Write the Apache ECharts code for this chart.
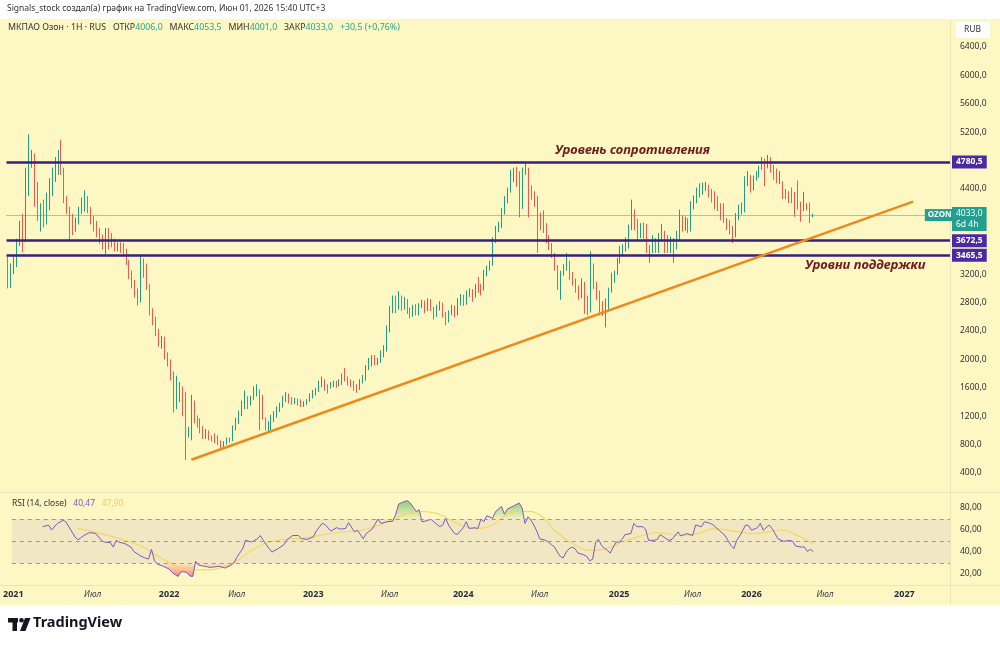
<!DOCTYPE html>
<html>
<head>
<meta charset="utf-8">
<script src="https://cdn.jsdelivr.net/npm/echarts@6/dist/echarts.min.js"></script>
<style>
  html, body { margin: 0; padding: 0; background: #fff; }
  #chart { width: 1000px; height: 645px; }
</style>
</head>
<body>
<div id="chart"></div>
<script>
// weekly candles [open, close, low, high], first one is week 1 of 2021
const candles = [
  [3350,3150,3000,3450],[3120,3300,3005,3350],[3250,3400,3200,3450],[3380,3560,3300,3700],[3650,3880,3600,3950],
  [3980,3620,3510,4050],[3680,4660,3650,4700],[4520,4790,4300,5170],[4800,4900,4700,4950],[4850,4400,4150,4900],
  [4400,4000,3950,4500],[3860,4130,3800,4200],[4050,3980,3860,4250],[3960,4280,3900,4350],[4150,4490,4100,4550],
  [4340,4620,4300,4700],[4570,4760,4500,4850],[4680,4850,4600,4950],[4850,4650,4600,5090],[4650,4250,4200,4700],
  [4280,4100,4050,4300],[4100,3900,3680,4150],[4000,3850,3750,4050],[3880,3950,3800,4000],[3950,4100,3900,4150],
  [4080,4230,4050,4280],[4150,4280,4080,4380],[4260,4120,4060,4300],[4120,3960,3900,4150],[3990,3880,3800,4020],
  [3900,3780,3720,3950],[3800,3700,3630,3850],[3730,3620,3550,3760],[3580,3800,3480,3850],[3800,3600,3550,3850],
  [3720,3620,3580,3780],[3680,3560,3520,3700],[3560,3620,3520,3650],[3620,3560,3500,3650],[3600,3520,3450,3640],
  [3520,3370,3330,3560],[3380,3180,3130,3400],[3220,3060,3000,3250],[3100,2920,2870,3120],[2980,2800,2760,3000],
  [2850,3370,2800,3480],[3360,3250,3150,3420],[3300,3020,2980,3350],[3040,2670,2620,3060],[2690,2530,2480,2720],
  [2570,2380,2330,2600],[2400,2230,2180,2430],[2230,2300,2150,2330],[2290,2060,2000,2320],[2080,1950,1900,2100],
  [1980,1740,1700,2000],[1800,1390,1250,1830],[1390,1470,1300,1770],[1470,1520,1400,1680],[1560,1300,1200,1620],
  [1500,980,583,1540],[980,1010,900,1050],[1010,1400,860,1500],[1400,1146,1100,1420],[1190,1080,1040,1210],
  [1150,1005,960,1170],[1030,910,880,1060],[920,1000,880,1020],[980,900,860,1000],[910,870,840,930],
  [930,860,820,960],[900,820,790,930],[840,760,735,860],[770,830,750,850],[820,880,800,900],
  [870,860,830,900],[870,1050,850,1070],[1030,1160,1000,1180],[1120,1250,1090,1280],[1240,1390,1200,1420],
  [1340,1470,1300,1560],[1440,1340,1300,1480],[1390,1460,1350,1490],[1470,1580,1430,1620],[1510,1570,1480,1650],
  [1540,1430,1000,1580],[1470,1200,1150,1500],[1150,1040,1000,1180],[1020,1100,970,1130],[1050,1190,1000,1220],
  [1160,1240,1120,1270],[1220,1310,1180,1340],[1290,1360,1260,1390],[1350,1470,1320,1490],[1440,1500,1400,1540],
  [1500,1420,1380,1520],[1440,1400,1360,1470],[1410,1440,1370,1460],[1430,1390,1350,1450],[1420,1360,1330,1440],
  [1360,1390,1330,1410],[1390,1420,1360,1440],[1420,1500,1400,1520],[1480,1540,1450,1570],[1520,1580,1490,1600],
  [1570,1670,1540,1700],[1640,1720,1610,1760],[1700,1590,1560,1720],[1620,1560,1520,1650],[1620,1650,1590,1680],
  [1650,1680,1610,1700],[1670,1630,1600,1700],[1650,1700,1620,1720],[1660,1780,1640,1800],[1800,1720,1690,1880],
  [1730,1660,1630,1760],[1690,1650,1610,1720],[1670,1590,1560,1700],[1600,1580,1530,1650],[1600,1700,1570,1720],
  [1690,1760,1660,1780],[1720,1900,1700,1920],[1880,1990,1850,2020],[1940,2040,1900,2060],[2030,1950,1920,2060],
  [1960,1990,1920,2020],[1970,2100,1950,2130],[2060,2170,2030,2200],[2140,2450,2110,2480],[2400,2700,2380,2750],
  [2680,2840,2650,2900],[2850,2700,2650,2900],[2720,2900,2700,2960],[2860,2720,2680,2900],[2740,2830,2700,2880],
  [2820,2680,2640,2850],[2700,2620,2580,2730],[2640,2740,2600,2770],[2750,2650,2620,2780],[2660,2760,2620,2790],
  [2760,2800,2720,2840],[2800,2690,2650,2830],[2700,2830,2680,2860],[2820,2720,2680,2850],[2700,2600,2560,2740],
  [2620,2740,2600,2770],[2730,2780,2690,2820],[2770,2630,2590,2800],[2640,2530,2480,2670],[2550,2660,2520,2690],
  [2660,2740,2620,2770],[2740,2630,2590,2760],[2650,2820,2620,2860],[2800,2880,2760,2920],[2880,2790,2750,2910],
  [2800,2930,2770,2970],[2930,2960,2880,3000],[2960,2850,2810,2990],[2910,3020,2870,3060],[3100,2980,2940,3160],
  [3020,2960,2900,3060],[3000,3230,2970,3260],[3210,3290,3170,3320],[3290,3360,3250,3390],[3350,3680,3320,3720],
  [3670,3850,3640,3880],[3830,3900,3790,3940],[3880,4100,3850,4130],[4080,4270,4040,4300],[4240,4380,4200,4420],
  [4380,4640,4350,4670],[4540,4660,4500,4700],[4620,4480,4430,4710],[4620,4100,4000,4650],[4150,4660,4120,4700],
  [4640,4720,4600,4760],[4650,4400,4000,4700],[4420,4290,4250,4450],[4340,4200,4150,4370],[4270,3930,3500,4300],
  [4030,3860,3820,4070],[3970,3820,3780,4100],[3890,3680,3640,3920],[3720,3580,3540,3750],[3610,3470,3430,3640],
  [3470,3290,3250,3500],[3300,3020,2980,3330],[3020,3220,2840,3250],[3220,3300,3180,3340],[3290,3360,3250,3500],
  [3360,3160,3120,3390],[3200,3080,3040,3230],[3110,2980,2940,3140],[3010,2880,2840,3040],[2900,3110,2860,3140],
  [3060,2740,2640,3090],[2880,2660,2620,2900],[2700,3470,2660,3520],[3310,3030,2990,3350],[3060,2880,2840,3090],
  [2940,2700,2620,2970],[2790,2650,2610,2820],[2650,2830,2450,2860],[2720,2980,2690,3010],[2970,3190,2940,3220],
  [3120,3220,3080,3250],[3220,3400,3190,3430],[3380,3570,3350,3600],[3510,3590,3470,3620],[3560,3690,3520,3720],
  [3590,3870,3560,3900],[3850,4100,3820,4250],[4080,3860,3820,4110],[3950,3720,3680,3980],[3750,3880,3710,3920],
  [3900,3740,3700,3930],[3880,3540,3500,3910],[3580,3470,3360,3610],[3540,3720,3500,3750],[3680,3540,3500,3710],
  [3540,3750,3500,3780],[3700,3880,3660,3910],[3780,3540,3500,3810],[3720,3540,3500,3750],[3540,3700,3500,3730],
  [3680,3470,3360,3710],[3580,3780,3550,3810],[3690,4050,3660,4110],[4000,3850,3800,4030],[3850,3980,3810,4010],
  [3960,3820,3780,3990],[3830,4200,3800,4230],[4150,4280,4110,4310],[4230,4390,4200,4420],[4310,4450,4280,4480],
  [4350,4460,4320,4490],[4400,4480,4370,4500],[4430,4310,4280,4460],[4370,4250,4210,4400],[4340,4150,4110,4370],
  [4270,4130,4090,4300],[4170,4000,3960,4200],[4100,3960,3920,4200],[3960,3860,3820,3990],[3930,3800,3760,3960],
  [3850,3680,3640,3880],[3760,4030,3720,4060],[4000,4150,3960,4180],[4080,4170,4040,4210],[4100,4550,4070,4580],
  [4480,4600,4440,4650],[4560,4390,4350,4600],[4420,4560,4380,4590],[4550,4600,4520,4650],[4600,4700,4560,4730],
  [4700,4810,4670,4850],[4740,4480,4440,4830],[4720,4810,4690,4880],[4770,4670,4630,4850],[4710,4570,4530,4740],
  [4660,4520,4480,4690],[4500,4620,4470,4650],[4480,4300,4260,4510],[4370,4300,4260,4400],[4340,4230,4200,4370],
  [4330,4240,4200,4420],[4330,4050,4010,4360],[4260,4150,4110,4520],[4190,4000,3940,4220],[4130,4190,4090,4360],
  [4170,4140,4100,4200],[4180,4000,3920,4210],[4006,4033,4001,4053.5]
];

// RSI(14) and its moving average as [bar index, value]
const rsiPts = [
  [10,63],[12,64.5],[13,60],[15,66],[17,68.8],[18,67],[20,58],[21,53.7],[22,51],[24,55],[26,57.7],[28,56.8],
  [30,50.6],[31,49],[33,48.5],[34,44.5],[35,50.6],[36,49],[38,47.5],[40,44.5],[41,40.5],[43,36.8],[45,34.3],
  [46,33.7],[47,42.3],[48,32],[49,29],[51,27],[53,24.5],[54,21.4],[56,17.7],[57,22],[58,22],[59,21.4],[60,18.3],
  [61,17.7],[62,31.5],[63,28],[65,27],[67,26],[70,27],[72,25.4],[74,28],[75,30],[76,35.2],[78,43],[79,50.6],
  [81,49],[83,52],[84,55],[85,50.6],[87,43],[88,40],[90,43],[92,46.6],[93,51],[95,55],[97,55],[98,52],[100,51.5],
  [102,53.7],[103,59],[105,66],[106,65],[108,59],[110,62.2],[111,60.8],[113,61.4],[114,66.6],[116,58.3],
  [117,59.8],[119,52],[120,56.8],[122,60.8],[124,70],[125,66],[127,67.5],[129,68],[130,73.7],[131,83.5],
  [133,86],[134,86.6],[135,84.5],[137,76.8],[138,78.3],[139,67.5],[140,68],[142,69.7],[143,67.5],[145,63],
  [146,64.5],[147,70.6],[148,64.5],[150,56.8],[151,56],[153,62],[154,67.5],[155,61.4],[157,62],[158,61.4],
  [159,70],[160,67.5],[161,73],[163,70.6],[164,76.8],[166,81.4],[167,74.3],[168,79],[170,81.7],[172,84.5],
  [173,80],[174,66],[175,72],[176,69],[177,64.5],[178,59],[179,52],[181,50.6],[182,49],[183,46.6],[184,44.5],
  [185,40],[186,36],[187,34.6],[188,40],[189,43],[190,44.5],[191,43],[192,39],[194,37.4],[195,36],[196,32],
  [197,33.5],[198,49],[199,51.5],[200,46],[201,43.5],[202,41.4],[203,39],[204,44.5],[205,49],[206,49],
  [207,51.5],[208,55.8],[210,56.8],[211,66],[212,63],[214,63],[215,60.8],[216,50.6],[218,50.6],[219,51.5],
  [220,55.8],[222,52],[223,50.6],[224,51.5],[226,58.3],[227,54.6],[229,56.8],[231,55],[232,64.5],[234,63],
  [235,67.5],[237,66],[238,64.5],[240,59.8],[242,55],[243,50.6],[244,46],[245,43],[246,50.6],[247,54.6],
  [249,64.5],[250,64],[251,59.8],[253,62],[254,66],[255,59.8],[257,64.5],[258,61.4],[259,56.8],[260,52],
  [262,49.7],[264,50.6],[265,49.7],[266,45.4],[268,44.5],[269,44.5],[270,40.5],[271,42.3],[272,40.47]
];
const rsiMaPts = [
  [22,61.4],[31,55.8],[43,46],[52,32],[61,23.8],[65,23.8],[71,26],[76,32],[83,44.5],[90,50.6],[99,52.8],
  [110,57.7],[121,61.4],[133,73.7],[139,76.8],[144,75],[151,66],[157,61.4],[163,64.5],[166,70.6],[171,76.8],
  [174,77],[179,73.7],[184,60],[190,48],[197,41.4],[202,43.5],[208,50],[214,55],[219,57.7],[227,55],[233,57],
  [238,61],[245,59],[251,56.8],[257,58.5],[261,60],[267,54.6],[271,49],[272,47.9]
];

const tickIdx = [0, 27, 53, 76, 102, 128, 153, 179, 206, 231, 251, 276, 303];
const tickText = ['2021','Июл','2022','Июл','2023','Июл','2024','Июл','2025','Июл','2026','Июл','2027'];

const levels = [4780.5, 3672.5, 3465.5];
const trendLine = [[62, 587], [306, 4222]];
const slotCount = 319;
const hiddenPriceLabels = [0, 3600, 4000, 4800, 6800];

const cats = Array.from({ length: slotCount }, (_, i) => String(i));
const last = candles[candles.length - 1];

const FONT = '"Noto Sans", "DejaVu Sans", sans-serif';
const UP = '#1e9e88', DOWN = '#ee5a52';
const fmt1 = v => v.toFixed(1).replace('.', ',');
const fmt2 = v => v.toFixed(2).replace('.', ',');

const chart = echarts.init(document.getElementById('chart'), null, { renderer: 'canvas' });

chart.setOption({
  animation: false,
  backgroundColor: '#fdf7c4',
  textStyle: { fontFamily: FONT },
  grid: [
    { left: 6.5, right: 50, top: 18.6, height: 482.8 },
    { left: 6.5, right: 50, top: 486, height: 110 }
  ],
  xAxis: [
    {
      type: 'category', gridIndex: 0, data: cats,
      axisLine: { show: false }, axisTick: { show: false }, axisLabel: { show: false }, splitLine: { show: false }
    },
    {
      type: 'category', gridIndex: 1, data: cats, offset: -9,
      axisLine: { show: false }, axisTick: { show: false }, splitLine: { show: false },
      axisLabel: {
        margin: 3,
        alignMinLabel: 'center',
        interval: (i) => tickIdx.indexOf(i) >= 0,
        formatter: (v, i) => {
          const t = tickText[tickIdx.indexOf(Number(v))];
          return t === 'Июл' ? '{m|' + t + '}' : '{y|' + t + '}';
        },
        rich: {
          y: { fontSize: 9, fontWeight: 'bold', color: '#2a2e39', fontFamily: FONT },
          m: { fontSize: 8.5, fontStyle: 'italic', color: '#3a3e49', fontFamily: FONT }
        }
      }
    }
  ],
  yAxis: [
    {
      type: 'value', gridIndex: 0, position: 'right', min: 0, max: 6800, interval: 400,
      axisLine: { show: false }, axisTick: { show: false }, splitLine: { show: false },
      axisLabel: {
        margin: 10, fontSize: 8.5, color: '#333',
        formatter: v => hiddenPriceLabels.indexOf(v) >= 0 ? '' : fmt1(v)
      }
    },
    {
      type: 'value', gridIndex: 1, position: 'right', min: 0, max: 100, interval: 20,
      axisLine: { show: false }, axisTick: { show: false }, splitLine: { show: false },
      axisLabel: {
        margin: 10, fontSize: 8.5, color: '#333',
        formatter: v => (v === 0 || v === 100) ? '' : fmt2(v)
      }
    }
  ],
  series: [
    {
      type: 'candlestick', xAxisIndex: 0, yAxisIndex: 0,
      data: candles,
      barWidth: 1.2,
      itemStyle: { color: UP, color0: DOWN, borderColor: UP, borderColor0: DOWN, borderWidth: 1 },
      markLine: {
        silent: true, symbol: 'none',
        data: [
          ...levels.map(v => ({
            yAxis: v,
            lineStyle: { color: '#35217e', width: 2.5, type: 'solid' },
            label: {
              show: true, position: 'end', distance: 2, formatter: fmt1(v),
              backgroundColor: '#4a2aa3', color: '#fff', fontSize: 8.5, fontWeight: 'bold',
              padding: [2, 4, 2, 4], fontFamily: FONT
            }
          })),
          {
            yAxis: last[1],
            lineStyle: { color: '#26a69a', width: 1, type: 'dotted' },
            label: {
              show: true, position: 'end', distance: 2, formatter: fmt1(last[1]) + '\n6d 4h',
              backgroundColor: '#22a08f', color: '#fff', fontSize: 8.5, lineHeight: 11,
              padding: [1, 4, 1, 4], fontFamily: FONT, offset: [0, 4]
            }
          },
          [
            { coord: [String(trendLine[0][0]), trendLine[0][1]], lineStyle: { color: '#ee8a1c', width: 2.5, type: 'solid' }, label: { show: false } },
            { coord: [String(trendLine[1][0]), trendLine[1][1]] }
          ]
        ]
      },
      markPoint: {
        silent: true,
        data: [{
          coord: ['315', last[1]], symbolSize: 0,
          label: {
            show: true, position: 'inside', formatter: 'OZON',
            backgroundColor: '#22a08f', color: '#fff', fontSize: 8, fontWeight: 'bold',
            padding: [2, 3, 2, 3], fontFamily: FONT
          }
        }]
      }
    },
    {
      name: 'overbought', type: 'line', xAxisIndex: 1, yAxisIndex: 1,
      data: rsiPts.map(p => [p[0], Math.max(p[1], 70)]),
      symbol: 'none', lineStyle: { width: 0 },
      areaStyle: {
        origin: 70,
        color: new echarts.graphic.LinearGradient(0, 0, 0, 1, [
          { offset: 0, color: 'rgba(76,175,80,0.85)' }, { offset: 1, color: 'rgba(76,175,80,0.1)' }
        ])
      }
    },
    {
      name: 'oversold', type: 'line', xAxisIndex: 1, yAxisIndex: 1,
      data: rsiPts.map(p => [p[0], Math.min(p[1], 30)]),
      symbol: 'none', lineStyle: { width: 0 },
      areaStyle: {
        origin: 30,
        color: new echarts.graphic.LinearGradient(0, 1, 0, 0, [
          { offset: 0, color: 'rgba(242,54,69,0.8)' }, { offset: 1, color: 'rgba(242,54,69,0.1)' }
        ])
      }
    },
    {
      name: 'RSI MA', type: 'line', xAxisIndex: 1, yAxisIndex: 1,
      data: rsiMaPts, smooth: 0.5, symbol: 'none',
      lineStyle: { color: '#f3d766', width: 1.2 }
    },
    {
      name: 'RSI', type: 'line', xAxisIndex: 1, yAxisIndex: 1,
      data: rsiPts, symbol: 'none',
      lineStyle: { color: '#7e57c2', width: 1 },
      markArea: {
        silent: true,
        itemStyle: { color: 'rgba(126,87,194,0.09)' },
        data: [[{ yAxis: 30 }, { yAxis: 70 }]]
      },
      markLine: {
        silent: true, symbol: 'none', label: { show: false },
        lineStyle: { color: '#a09a88', type: [4, 4], width: 1 },
        data: [{ yAxis: 70 }, { yAxis: 50 }, { yAxis: 30 }]
      }
    }
  ],
  graphic: [
    { type: 'rect', shape: { x: 0, y: 0, width: 1000, height: 19 }, style: { fill: '#fff' }, silent: true },
    { type: 'rect', shape: { x: 0, y: 605, width: 1000, height: 40 }, style: { fill: '#fff' }, silent: true },
    { type: 'line', shape: { x1: 0, y1: 492.5, x2: 1000, y2: 492.5 }, style: { stroke: '#ebe4b6', lineWidth: 1 }, silent: true },
    { type: 'line', shape: { x1: 0, y1: 585.5, x2: 1000, y2: 585.5 }, style: { stroke: '#ebe4b6', lineWidth: 1 }, silent: true },
    { type: 'line', shape: { x1: 950.5, y1: 19, x2: 950.5, y2: 605 }, style: { stroke: '#ebe4b6', lineWidth: 1 }, silent: true },
    {
      type: 'text', left: 7, top: 4, silent: true,
      style: { text: 'Signals_stock создал(а) график на TradingView.com, Июн 01, 2026 15:40 UTC+3', font: '8.5px ' + FONT, fill: '#333' }
    },
    {
      type: 'text', left: 8, top: 23, silent: true,
      style: {
        text: '{l|МКПАО Озон · 1H · RUS   ОТКР}{v|' + fmt1(last[0]) + '}{l|   МАКС}{v|' + fmt1(last[3]) +
              '}{l|   МИН}{v|' + fmt1(last[2]) + '}{l|   ЗАКР}{v|' + fmt1(last[1]) + '}{v|   +30,5 (+0,76%)}',
        rich: {
          l: { fontSize: 8.8, fill: '#333', fontFamily: FONT },
          v: { fontSize: 8.8, fill: '#26a69a', fontFamily: FONT }
        }
      }
    },
    { type: 'rect', shape: { x: 956, y: 22, width: 34, height: 16 }, style: { fill: '#fff' }, silent: true },
    { type: 'text', left: 964, top: 25, silent: true, style: { text: 'RUB', font: '8.5px ' + FONT, fill: '#333' } },
    {
      type: 'text', left: 555, top: 144, silent: true,
      style: { text: 'Уровень сопротивления', font: 'italic bold 13px ' + FONT, fill: '#701c1c' }
    },
    {
      type: 'text', left: 805, top: 259, silent: true,
      style: { text: 'Уровни поддержки', font: 'italic bold 13px ' + FONT, fill: '#701c1c' }
    },
    {
      type: 'text', left: 12, top: 498, silent: true,
      style: {
        text: '{l|RSI (14, close)}  {a|' + fmt2(rsiPts[rsiPts.length - 1][1]) + '}  {b|' + fmt2(rsiMaPts[rsiMaPts.length - 1][1]) + '}',
        rich: {
          l: { fontSize: 8.5, fill: '#333', fontFamily: FONT },
          a: { fontSize: 8.5, fill: '#7e57c2', fontFamily: FONT },
          b: { fontSize: 8.5, fill: '#efcf4f', fontFamily: FONT }
        }
      }
    },
    // TradingView logo
    { type: 'rect', shape: { x: 8, y: 618, width: 10, height: 4.5 }, style: { fill: '#131722' }, silent: true },
    { type: 'rect', shape: { x: 12.5, y: 618, width: 4.5, height: 13 }, style: { fill: '#131722' }, silent: true },
    { type: 'circle', shape: { cx: 21.5, cy: 620.2, r: 2.3 }, style: { fill: '#131722' }, silent: true },
    { type: 'polygon', shape: { points: [[25, 618], [30.5, 618], [25.5, 631], [20, 631]] }, style: { fill: '#131722' }, silent: true },
    { type: 'text', left: 33, top: 615, silent: true, style: { text: 'TradingView', font: 'bold 14.5px ' + FONT, fill: '#131722' } }
  ]
});
</script>
</body>
</html>
